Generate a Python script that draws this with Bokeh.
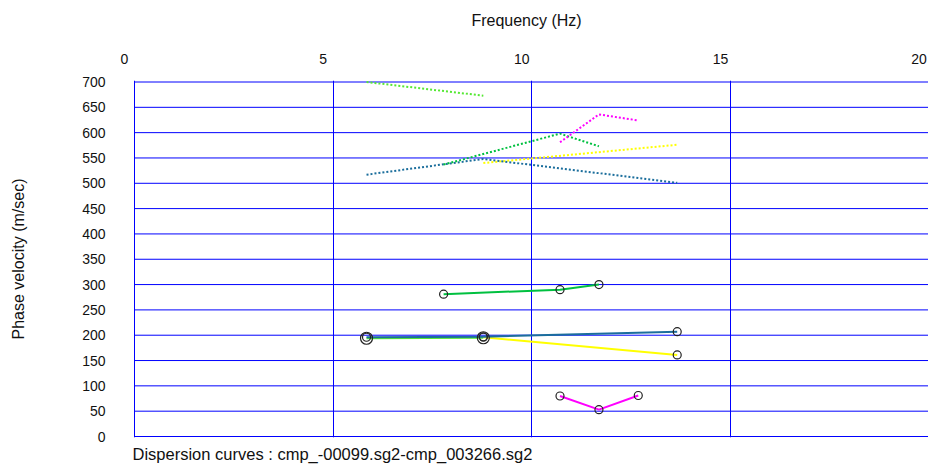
from bokeh.plotting import figure
from bokeh.models import Range1d, FixedTicker, LinearAxis, Grid, Title
from bokeh.embed import file_html
from bokeh.resources import INLINE

# Axis ticks
freq_ticks = [0, 5, 10, 15, 20]
vel_ticks = list(range(0, 701, 50))

# Dispersion picks per CMP: frequency (Hz), fundamental-mode and higher-mode phase velocity (m/s)
freq_lime = [5.84, 8.78]
fund_lime = [194, 195]
high_lime = [700, 673]

freq_green = [7.78, 10.71, 11.69]
fund_green = [281, 290, 300]
high_green = [537, 598, 573]

freq_yellow = [8.78, 13.66]
fund_yellow = [196, 161]
high_yellow = [540, 576]

freq_teal = [5.84, 8.78, 13.66]
fund_teal = [196, 197, 207]
high_teal = [517, 548, 501]

freq_magenta = [10.71, 11.69, 12.68]
fund_magenta = [80, 53, 81]
high_magenta = [581, 636, 624]

series = [
    ("#55E833", freq_lime, fund_lime, high_lime, 12),
    ("#FFFF00", freq_yellow, fund_yellow, high_yellow, 8),
    ("#1B6E9C", freq_teal, fund_teal, high_teal, 8),
    ("#00C040", freq_green, fund_green, high_green, 8),
    ("#FF00FF", freq_magenta, fund_magenta, high_magenta, 8),
]

FONT = "Liberation Sans"
GRID = "#0000FF"
TEXT = "#111111"

# The frequency labels are printed 10 px left of their grid lines; the frame
# starts that far left of 0 Hz and the label axis uses a range shifted by the same amount.
px_per_hz = 39.73
shift_hz = 10 / px_per_hz
x_end = 19.985
px_per_ms = 354.5 / 700
y_start = -1.0 / px_per_ms
y_end = 700 + 1.5 / px_per_ms

p = figure(width=928, height=467, output_backend="svg", toolbar_location=None,
           x_range=Range1d(-shift_hz, x_end), y_range=Range1d(y_start, y_end),
           x_axis_location=None,
           min_border_left=124, min_border_right=0,
           min_border_top=80, min_border_bottom=30)
p.extra_x_ranges = {"labels": Range1d(0, x_end + shift_hz)}
p.outline_line_color = None
p.background_fill_color = "white"
p.border_fill_color = "white"

xa = LinearAxis(x_range_name="labels", ticker=FixedTicker(ticks=freq_ticks))
xa.axis_label = "Frequency (Hz)"
xa.axis_label_text_font = FONT
xa.axis_label_text_font_size = "16px"
xa.axis_label_text_font_style = "normal"
xa.axis_label_text_color = TEXT
xa.axis_label_standoff = 22
xa.major_label_text_font = FONT
xa.major_label_text_font_size = "14px"
xa.major_label_text_color = TEXT
xa.major_label_standoff = 17
xa.axis_line_color = None
xa.major_tick_line_color = None
xa.minor_tick_line_color = None
xa.major_tick_out = 0
xa.major_tick_in = 0
xa.minor_tick_out = 0
p.add_layout(xa, "above")

ya = p.yaxis[0]
ya.ticker = FixedTicker(ticks=vel_ticks)
ya.axis_label = "Phase velocity (m/sec)"
ya.axis_label_text_font = FONT
ya.axis_label_text_font_size = "16px"
ya.axis_label_text_font_style = "normal"
ya.axis_label_text_color = TEXT
ya.axis_label_standoff = 52
ya.major_label_text_font = FONT
ya.major_label_text_font_size = "14px"
ya.major_label_text_color = TEXT
ya.major_label_standoff = 19
ya.axis_line_color = None
ya.major_tick_line_color = None
ya.minor_tick_line_color = None
ya.major_tick_out = 0
ya.major_tick_in = 0
ya.minor_tick_out = 0

# Grid: vertical lines over the full height, horizontal lines from 0 Hz onward
p.ygrid.grid_line_color = None
p.add_layout(Grid(dimension=0, ticker=FixedTicker(ticks=freq_ticks),
                  grid_line_color=GRID), "center")
p.segment(x0=[freq_ticks[0]] * len(vel_ticks), x1=[freq_ticks[-1]] * len(vel_ticks),
          y0=vel_ticks, y1=vel_ticks, line_color=GRID, line_width=1)

# Higher-mode curves (dotted)
for color, f, fund, high, size in series:
    p.line(f, high, line_color=color, line_width=2, line_dash="2 2")

# Fundamental-mode curves with picked points
for color, f, fund, high, size in series:
    p.line(f, fund, line_color=color, line_width=2)
for color, f, fund, high, size in series:
    p.scatter(f, fund, marker="circle", size=size, fill_color=None,
              line_color="#222222", line_width=1.2)

caption = Title(text="Dispersion curves : cmp_-00099.sg2-cmp_003266.sg2",
                align="left", offset=8, text_font=FONT,
                text_font_size="16.5px", text_font_style="normal", text_color=TEXT)
p.add_layout(caption, "below")

open("out.html", "w").write(file_html(p, INLINE))
